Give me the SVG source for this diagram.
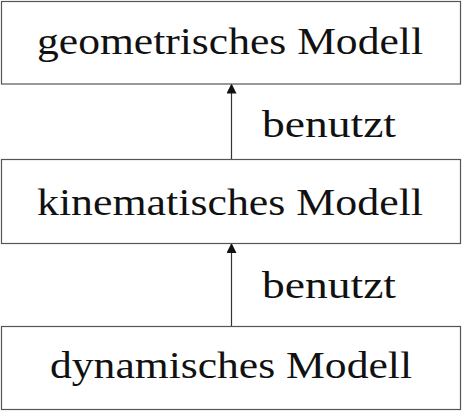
<svg xmlns="http://www.w3.org/2000/svg" width="462" height="412" viewBox="0 0 462 412">
<style>
.box rect{fill:#fff;stroke:#555;stroke-width:1.2}
text{font-family:"Liberation Serif","DejaVu Serif",serif;fill:#111}
.t{font-size:38px;text-anchor:middle}
.l{font-size:37px}
.c line{stroke:#333;stroke-width:1.2}
</style>
<defs>
<marker id="ah" markerWidth="10" markerHeight="10" refX="9" refY="5" orient="auto" markerUnits="userSpaceOnUse">
<path d="M0,0 L10,5 L0,10 Z" fill="#111"/>
</marker>
</defs>
<g class="c" id="connectors">
<line x1="231.5" y1="159.5" x2="231.5" y2="84.5" marker-end="url(#ah)"/>
<line x1="231.5" y1="326.5" x2="231.5" y2="244" marker-end="url(#ah)"/>
<text class="l" x="262" y="137" textLength="134" lengthAdjust="spacingAndGlyphs">benutzt</text>
<text class="l" x="262" y="298" textLength="134" lengthAdjust="spacingAndGlyphs">benutzt</text>
</g>
<g class="box" id="geo">
<rect x="1.5" y="1.5" width="459" height="82.5"/>
<text class="t" x="230" y="54" textLength="386" lengthAdjust="spacingAndGlyphs">geometrisches Modell</text>
</g>
<g class="box" id="kin">
<rect x="1.5" y="159.5" width="459" height="84"/>
<text class="t" x="230" y="215" textLength="386" lengthAdjust="spacingAndGlyphs">kinematisches Modell</text>
</g>
<g class="box" id="dyn">
<rect x="1.5" y="326.5" width="459" height="83"/>
<text class="t" x="231" y="378" textLength="362" lengthAdjust="spacingAndGlyphs">dynamisches Modell</text>
</g>
</svg>
